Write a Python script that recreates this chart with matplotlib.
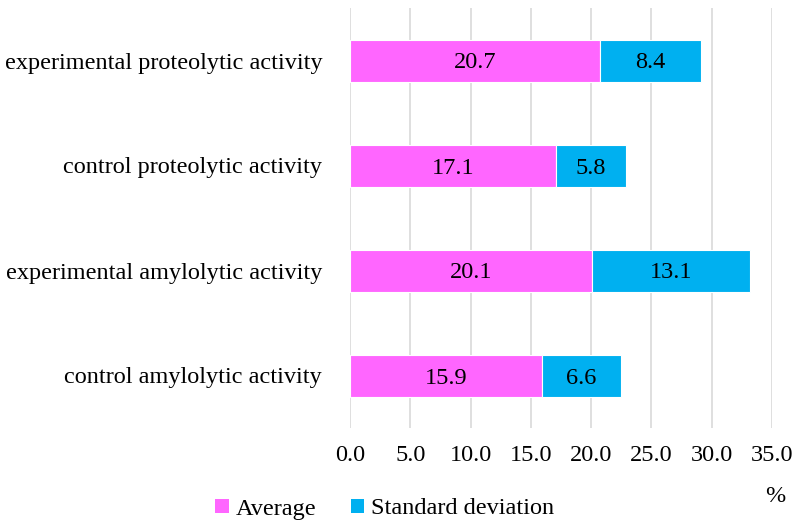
import matplotlib.pyplot as plt
from matplotlib.patches import Patch

plt.rcParams['font.family'] = ['Liberation Serif', 'DejaVu Serif']

categories = ["control amylolytic activity",
              "experimental amylolytic activity",
              "control proteolytic activity",
              "experimental proteolytic activity"]
average = [15.9, 20.1, 17.1, 20.7]
std_dev = [6.6, 13.1, 5.8, 8.4]
x_ticks = [0, 5, 10, 15, 20, 25, 30, 35]

pink = "#FF66FF"
blue = "#00B0F0"
fs = 17.5

fig = plt.figure(figsize=(7.92, 5.21), dpi=100)
ax = fig.add_axes([350 / 792, 1 - 428 / 521, 422 / 792, 420 / 521])

ypos = list(range(len(categories)))
b1 = ax.barh(ypos, average, height=0.40, color=pink, edgecolor="white", linewidth=0.8, zorder=3)
b2 = ax.barh(ypos, std_dev, left=average, height=0.40, color=blue, edgecolor="white", linewidth=0.8, zorder=3)

# segment values centred in each piece of the stack
for bars, vals in ((b1, average), (b2, std_dev)):
    for rect, v in zip(bars, vals):
        ax.text(rect.get_x() + rect.get_width() / 2, rect.get_y() + rect.get_height() / 2,
                f"{v:.1f}", ha="center", va="center_baseline", fontsize=fs, zorder=4)

ax.set_xlim(0, 35)
ax.set_ylim(-0.5, 3.5)
ax.set_xticks(x_ticks)
ax.set_xticklabels([f"{t:.1f}" for t in x_ticks], fontsize=fs)
ax.set_yticks(ypos)
ax.set_yticklabels(categories, fontsize=fs)
ax.tick_params(axis="both", length=0)
ax.tick_params(axis="x", pad=12)
ax.tick_params(axis="y", pad=20)
ax.grid(axis="x", color="#D9D9D9", linewidth=1.2, zorder=0)
for s in ax.spines.values():
    s.set_visible(False)

fig.text(775 / 792, 1 - 496 / 521, "%", ha="center", va="center", fontsize=fs)

handles = [Patch(facecolor=pink, label="Average"), Patch(facecolor=blue, label="Standard deviation")]
fig.legend(handles=handles, loc="center", bbox_to_anchor=(385 / 792, 1 - 509 / 521), ncol=2,
           frameon=False, fontsize=fs, handlelength=0.55, handleheight=0.55,
           handletextpad=0.3, columnspacing=1.4)

fig.savefig("out.png", dpi=100)
